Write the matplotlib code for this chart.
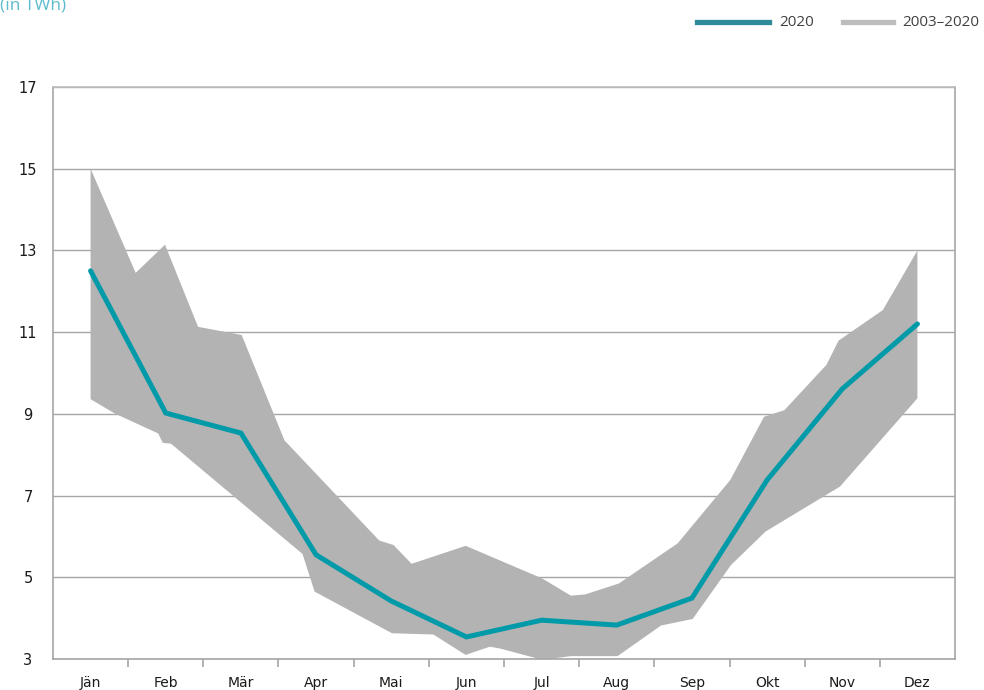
import matplotlib
matplotlib.use("Agg")
import matplotlib.pyplot as plt
from matplotlib.lines import Line2D

months = ["Jän", "Feb", "Mär", "Apr", "Mai", "Jun", "Jul", "Aug", "Sep", "Okt", "Nov", "Dez"]
values_2020 = [12.5, 9.02, 8.53, 5.55, 4.42, 3.54, 3.95, 3.83, 4.49, 7.38, 9.61, 11.2]

# Range 2003–2020 band, edges (x in month index units)
band_upper_x = [0.0, 0.60, 0.99, 1.43, 2.01, 2.58, 3.84, 4.03, 4.27, 4.99, 6.01, 6.39, 6.58,
                7.03, 7.81, 8.51, 8.96, 9.23, 9.79, 9.95, 10.54, 11.0]
band_upper_y = [15.0, 12.45, 13.14, 11.13, 10.93, 8.35, 5.90, 5.79, 5.33, 5.77, 4.97, 4.55, 4.58,
                4.85, 5.83, 7.38, 8.93, 9.09, 10.20, 10.79, 11.54, 13.0]
band_lower_x = [0.0, 0.32, 0.90, 0.96, 1.07, 2.82, 2.98, 4.01, 4.56, 4.99, 5.31, 5.44, 6.01,
                6.39, 7.01, 7.59, 8.01, 8.52, 8.98, 9.97, 11.0]
band_lower_y = [9.36, 9.01, 8.52, 8.29, 8.27, 5.57, 4.65, 3.63, 3.60, 3.10, 3.30, 3.26, 2.98,
                3.07, 3.07, 3.82, 3.98, 5.30, 6.12, 7.22, 9.38]

y_ticks = [3, 5, 7, 9, 11, 13, 15, 17]
legend_labels = ["2020", "2003–2020"]

TEAL = "#009aa8"
GRAY_BAND = "#b3b3b3"
AXIS_GRAY = "#a6a6a6"

W, H = 984, 690
fig = plt.figure(figsize=(W / 100, H / 100), dpi=100)
ax = fig.add_axes([53 / W, 1 - 659 / H, (955 - 53) / W, (659 - 87) / H])

poly_x = band_upper_x + band_lower_x[::-1]
poly_y = band_upper_y + band_lower_y[::-1]
ax.fill(poly_x, poly_y, color=GRAY_BAND, linewidth=0, zorder=2)

ax.plot(range(len(months)), values_2020, color=TEAL, linewidth=3.6,
        solid_capstyle="round", solid_joinstyle="miter", zorder=3)

ax.set_xlim(-0.5, 11.5)
ax.set_ylim(3, 17)
ax.set_yticks(y_ticks)
ax.set_yticklabels([str(t) for t in y_ticks], fontsize=10.5, color="#1a1a1a",
                   family="DejaVu Sans")
ax.yaxis.grid(True, color=AXIS_GRAY, linewidth=1.0, zorder=1)
ax.set_axisbelow(True)
ax.tick_params(axis="y", length=0, pad=18)

ax.set_xticks(range(len(months)))
ax.set_xticklabels(months, fontsize=10, color="#1a1a1a", family="DejaVu Sans")
ax.set_xticks([i + 0.5 for i in range(11)], minor=True)
ax.tick_params(axis="x", which="major", length=0, pad=12)
ax.tick_params(axis="x", which="minor", length=6, width=1.2, color=AXIS_GRAY)

for side in ["left", "right", "bottom"]:
    ax.spines[side].set_color(AXIS_GRAY)
    ax.spines[side].set_linewidth(1.2)
ax.spines["top"].set_color("#bdbdbd")
ax.spines["top"].set_linewidth(1.2)

for lab in ax.get_yticklabels():
    lab.set_horizontalalignment("center")

fig.text(0.0, 1 - 5 / H, "(in TWh)", fontsize=12.5, color="#5bbccb",
         family="Open Sans", ha="left", va="center")

# Legend drawn manually (handles of different lengths as in the reference)
ly = 1 - 22 / H
fig.add_artist(Line2D([697 / W, 769 / W], [ly, ly], color="#2e8c9a", linewidth=3.8,
                      transform=fig.transFigure))
fig.text(779 / W, ly, legend_labels[0], fontsize=11, color="#404040",
         family="Open Sans", ha="left", va="center")
fig.add_artist(Line2D([843 / W, 893 / W], [ly, ly], color="#bdbdbd", linewidth=3.8,
                      transform=fig.transFigure))
fig.text(902 / W, ly, legend_labels[1], fontsize=11, color="#404040",
         family="Open Sans", ha="left", va="center")

fig.savefig("out.png", dpi=100)
